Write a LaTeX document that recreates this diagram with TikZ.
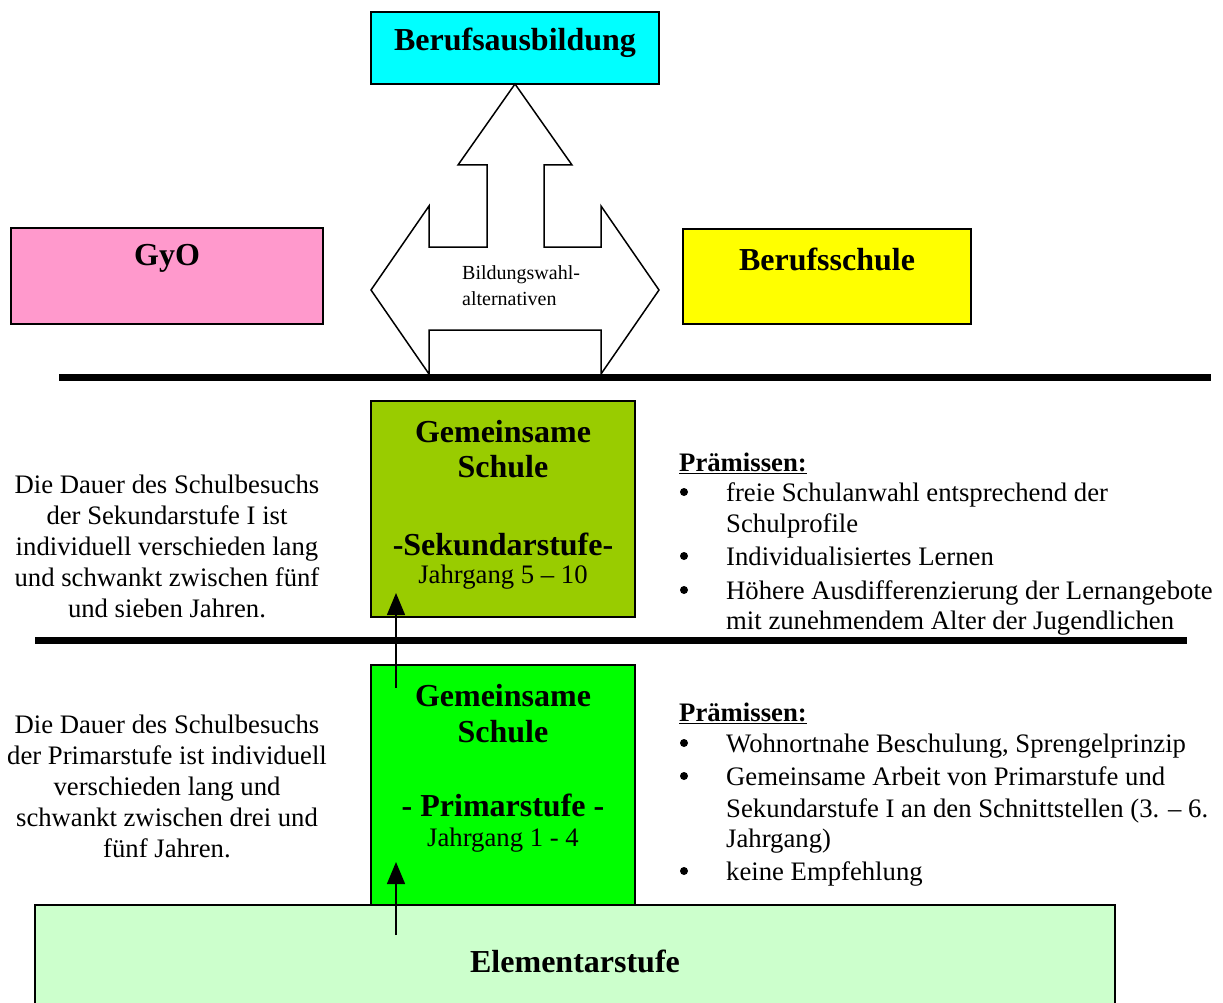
\documentclass[tikz,border=0pt]{standalone}
\usepackage{fontspec}
\setmainfont{Liberation Serif}
\usetikzlibrary{arrows.meta}
\definecolor{cy}{HTML}{00FFFF}
\definecolor{pk}{HTML}{FF99CC}
\definecolor{yl}{HTML}{FFFF00}
\definecolor{sek}{HTML}{99CC00}
\definecolor{prim}{HTML}{00FF00}
\definecolor{elem}{HTML}{CCFFCC}
\tikzset{
  box/.style={draw=black, line width=1.5pt},
  ttl/.style={font=\fontsize{32}{35}\selectfont\bfseries, inner sep=0pt},
  body/.style={font=\fontsize{26.7}{31}\selectfont, inner sep=0pt},
  small/.style={font=\fontsize{20}{26}\selectfont, inner sep=0pt},
  bar/.style={line width=7pt},
  up/.style={line width=1.5pt, -{Triangle[length=22pt,width=18pt]}},
  dot/.style={circle, fill=black, inner sep=0pt, minimum size=8pt},
}
\begin{document}
\begin{tikzpicture}[x=1pt,y=-1pt]
\useasboundingbox (0,0) rectangle (1223,1003);
\clip (0,0) rectangle (1223,1003);
\fill[white] (0,0) rectangle (1223,1003);

% top box
\draw[box, fill=cy] (371,12) rectangle (659,84);
\node[ttl] (beruf) at (515,43) {Berufsausbildung};

% three-way arrow
\draw[line width=1.5pt, fill=white, line join=miter]
  (515,84) -- (572,165) -- (544,165) -- (544,247) -- (601,247) -- (601,206)
  -- (659,290) -- (601,374) -- (601,330) -- (429,330) -- (429,374)
  -- (371,290) -- (429,206) -- (429,247) -- (487,247) -- (487,165)
  -- (458,165) -- cycle;
\node[small, align=left, anchor=west] (bwa) at (462,286) {Bildungswahl-\\alternativen};

% side boxes
\draw[box, fill=pk] (11,228) rectangle (323,324);
\node[ttl] (gyo) at (167,258) {GyO};
\draw[box, fill=yl] (683,229) rectangle (971,324);
\node[ttl] (bs) at (827,259) {Berufsschule};

% bars
\draw[bar] (59,377) -- (1211,377);
\draw[bar] (35,640) -- (1187,640);

% Sekundarstufe
\draw[box, fill=sek] (371,401) rectangle (635,617);
\node[ttl] (s1) at (503,432) {Gemeinsame};
\node[ttl] (s2) at (503,467) {Schule};
\node[ttl] (s3) at (503,544) {-Sekundarstufe-};
\node[body] (s4) at (503,577) {Jahrgang 5 – 10};

% Primarstufe
\draw[box, fill=prim] (371,665) rectangle (635,905);
\node[ttl] (p1) at (503,696) {Gemeinsame};
\node[ttl] (p2) at (503,732) {Schule};
\node[ttl] (p3) at (503,805) {- Primarstufe -};
\node[body] (p4) at (503,840) {Jahrgang 1 - 4};

% Elementarstufe
\draw[box, fill=elem] (35,905) rectangle (1115,1020);
\node[ttl] (el) at (575,961) {Elementarstufe};

% arrows
\coordinate (a1s) at (396,935);
\coordinate (a1e) at (396,862);
\coordinate (a2s) at (396,688);
\coordinate (a2e) at (396,593);
\draw[up] (a1s) -- (a1e);
\draw[up] (a2s) -- (a2e);

% left texts
\node[body, align=center] (lt1) at (167,546) {Die Dauer des Schulbesuchs\\der Sekundarstufe I ist\\individuell verschieden lang\\und schwankt zwischen fünf\\und sieben Jahren.};
\node[body, align=center] (lt2) at (167,786) {Die Dauer des Schulbesuchs\\der Primarstufe ist individuell\\verschieden lang und\\schwankt zwischen drei und\\fünf Jahren.};

% right texts upper
\node[body, anchor=base west] (pr1) at (679,471) {\textbf{\underline{Prämissen:}}};
\node[dot] (b11) at (684,492) {};
\node[body, anchor=base west] (t11) at (726,501) {freie Schulanwahl entsprechend der};
\node[body, anchor=base west] (t12) at (726,532) {Schulprofile};
\node[dot] (b12) at (684,556) {};
\node[body, anchor=base west] (t13) at (726,565) {Individualisiertes Lernen};
\node[dot] (b13) at (684,590) {};
\node[body, anchor=base west] (t14) at (726,599) {Höhere Ausdifferenzierung der Lernangebote};
\node[body, anchor=base west] (t15) at (726,629) {mit zunehmendem Alter der Jugendlichen};

% right texts lower
\node[body, anchor=base west] (pr2) at (679,721) {\textbf{\underline{Prämissen:}}};
\node[dot] (b21) at (684,743) {};
\node[body, anchor=base west] (t21) at (726,752) {Wohnortnahe Beschulung, Sprengelprinzip};
\node[dot] (b22) at (684,776) {};
\node[body, anchor=base west] (t22) at (726,785) {Gemeinsame Arbeit von Primarstufe und};
\node[body, anchor=base west] (t23) at (726,817) {Sekundarstufe I an den Schnittstellen (3. – 6.};
\node[body, anchor=base west] (t24) at (726,847) {Jahrgang)};
\node[dot] (b23) at (684,871) {};
\node[body, anchor=base west] (t25) at (726,880) {keine Empfehlung};
\end{tikzpicture}
\end{document}
